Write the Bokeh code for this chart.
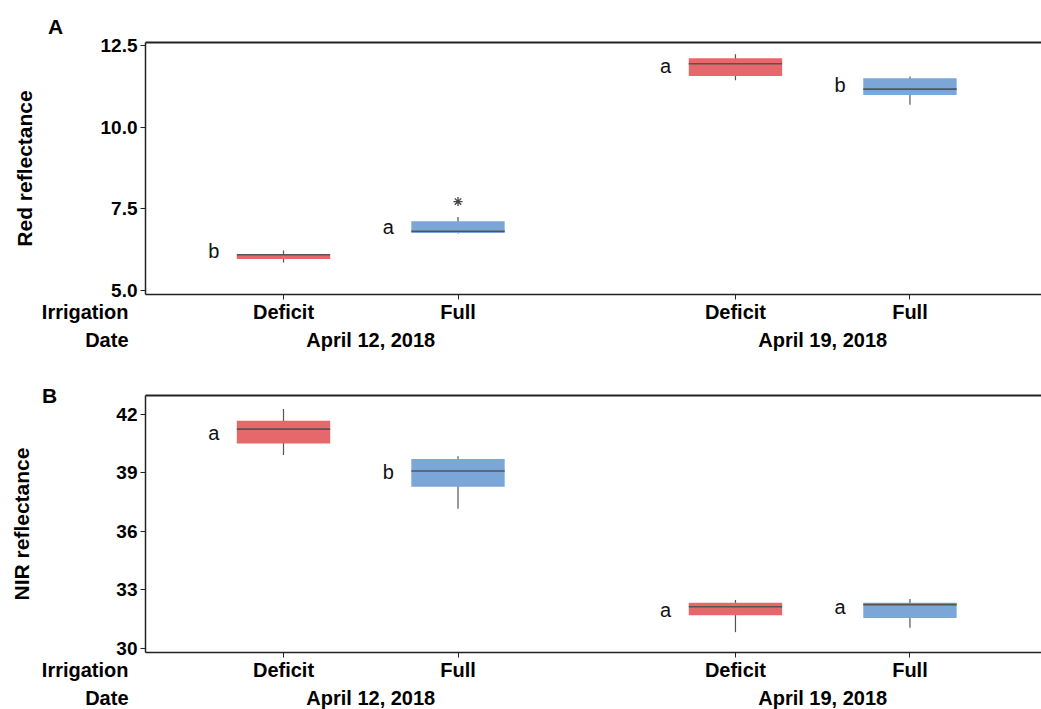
from bokeh.plotting import figure
from bokeh.models import (ColumnDataSource, Range1d, FixedTicker, LinearAxis,
                          PrintfTickFormatter, CustomJSTickFormatter, Label)
from bokeh.core.properties import value
from bokeh.layouts import column
from bokeh.embed import file_html
from bokeh.resources import INLINE

# Treatments (date x irrigation)
dates = ["April 12, 2018", "April 12, 2018", "April 19, 2018", "April 19, 2018"]
irrigation = ["Deficit", "Full", "Deficit", "Full"]
date_names = ["April 12, 2018", "April 19, 2018"]

# Panel A: red reflectance box statistics
red_low = [5.85, 6.74, 11.44, 10.69]
red_q1 = [5.96, 6.76, 11.57, 10.99]
red_med = [6.09, 6.81, 11.95, 11.17]
red_q3 = [6.10, 7.12, 12.12, 11.50]
red_high = [6.22, 7.25, 12.24, 11.56]
red_letters = ["b", "a", "a", "b"]
red_letter_y = [6.19, 6.94, 11.87, 11.29]
red_outlier_idx = [1]
red_outlier_y = [7.72]
red_ticks = [5.0, 7.5, 10.0, 12.5]

# Panel B: NIR reflectance box statistics
nir_low = [39.91, 37.15, 30.84, 31.07]
nir_q1 = [40.49, 38.28, 31.71, 31.56]
nir_med = [41.23, 39.09, 32.14, 32.25]
nir_q3 = [41.66, 39.70, 32.35, 32.34]
nir_high = [42.26, 39.84, 32.49, 32.54]
nir_letters = ["a", "b", "a", "a"]
nir_letter_y = [41.04, 39.04, 31.95, 32.11]
nir_ticks = [30, 33, 36, 39, 42]

# slot of each treatment along x (dates are separated by a wider gap)
slots = [0.0, 1.0, 2.59, 3.59]
date_slots = [(slots[0] + slots[1]) / 2, (slots[2] + slots[3]) / 2]

FONT = "Liberation Sans"
RED = "#E6686A"
BLUE = "#7AA6D8"
fills = [RED, BLUE, RED, BLUE]
BOX_W = 0.535
INK = "#222222"
W = 1041

# horizontal layout in pixels: first slot position, pixels per slot, plot box left
X0_PX, X_SCALE, BOX_LEFT = 283.0, 174.5, 145.0


def xd(px):
    return (px - X0_PX) / X_SCALE


def panel(tag, ylabel, stats, letters, letter_y, ylims, ticks, fmt,
          height, box_top, box_bottom, label_standoff, tag_px, outlier=None):
    low, q1, med, q3, high = stats
    y_lo, y_hi = ylims
    per_px = (y_hi - y_lo) / (box_bottom - box_top)

    def yd(py):
        return y_lo + (box_bottom - py) * per_px

    p = figure(width=W, height=height, x_range=Range1d(xd(0), xd(W)),
               y_range=Range1d(yd(height), yd(0)),
               x_axis_type=None, y_axis_type=None,
               output_backend="svg", toolbar_location=None)
    p.min_border = 0
    p.outline_line_color = None
    p.grid.visible = False

    src = ColumnDataSource(dict(
        x=slots, x0=[s - BOX_W / 2 for s in slots],
        x1=[s + BOX_W / 2 for s in slots], lx=[s - 0.4 for s in slots],
        low=low, q1=q1, med=med, q3=q3, high=high, fill=fills,
        lab=letters, ly=letter_y))
    # whiskers, boxes, medians
    p.segment(x0="x", x1="x", y0="low", y1="high", source=src,
              line_color="#555555", line_width=1.2)
    p.vbar(x="x", width=BOX_W, bottom="q1", top="q3", source=src,
           fill_color="fill", line_color=None)
    p.segment(x0="x0", x1="x1", y0="med", y1="med", source=src,
              line_color="#555555", line_width=1.6)
    # significance letters
    p.text(x="lx", y="ly", text="lab", source=src,
           text_font=value(FONT), text_font_size="20px", text_color="#111111",
           text_align="center", text_baseline="middle")
    if outlier is not None:
        idx, vals = outlier
        p.scatter(x=[slots[i] for i in idx], y=vals, marker="asterisk",
                  size=9, line_color="#444444", line_width=1.3)

    x_left, x_right = xd(BOX_LEFT), xd(W)

    # value axis
    yax = LinearAxis(fixed_location=x_left, bounds=(y_lo, y_hi),
                     ticker=FixedTicker(ticks=ticks),
                     formatter=PrintfTickFormatter(format=fmt))
    yax.minor_tick_line_color = None
    yax.major_tick_in = 0
    yax.major_tick_out = 5
    yax.axis_line_width = 1.5
    yax.axis_line_color = INK
    yax.major_tick_line_color = INK
    yax.major_label_standoff = 3
    yax.major_label_text_font = FONT
    yax.major_label_text_font_style = "bold"
    yax.major_label_text_font_size = "19px"
    yax.major_label_text_color = "black"
    yax.axis_label = ylabel
    yax.axis_label_text_font = FONT
    yax.axis_label_text_font_style = "bold"
    yax.axis_label_text_font_size = "21px"
    yax.axis_label_text_color = "black"
    yax.axis_label_standoff = label_standoff
    p.add_layout(yax, "left")

    # irrigation axis
    xax = LinearAxis(fixed_location=y_lo, bounds=(x_left, x_right),
                     ticker=FixedTicker(ticks=slots),
                     formatter=CustomJSTickFormatter(
                         args=dict(pos=slots, names=irrigation),
                         code="const i = pos.indexOf(tick); return i < 0 ? '' : names[i];"))
    xax.minor_tick_line_color = None
    xax.major_tick_in = 0
    xax.major_tick_out = 5
    xax.axis_line_width = 1.5
    xax.axis_line_color = INK
    xax.major_tick_line_color = INK
    xax.major_label_standoff = 1
    xax.major_label_text_font = FONT
    xax.major_label_text_font_style = "bold"
    xax.major_label_text_font_size = "20px"
    xax.major_label_text_color = "black"
    p.add_layout(xax, "below")

    # date axis (labels only)
    dax = LinearAxis(fixed_location=y_lo, bounds=(x_left, x_right),
                     ticker=FixedTicker(ticks=date_slots),
                     formatter=CustomJSTickFormatter(
                         args=dict(pos=date_slots, names=date_names),
                         code="const i = pos.indexOf(tick); return i < 0 ? '' : names[i];"))
    dax.axis_line_color = None
    dax.major_tick_line_color = None
    dax.minor_tick_line_color = None
    dax.major_tick_in = 0
    dax.major_tick_out = 0
    dax.major_label_standoff = 34
    dax.major_label_text_font = FONT
    dax.major_label_text_font_style = "bold"
    dax.major_label_text_font_size = "20px"
    dax.major_label_text_color = "black"
    p.add_layout(dax, "below")

    # top border
    tax = LinearAxis(fixed_location=y_hi, bounds=(x_left, x_right),
                     ticker=FixedTicker(ticks=[]))
    tax.axis_line_width = 2
    tax.axis_line_color = INK
    tax.major_tick_line_color = None
    tax.minor_tick_line_color = None
    tax.major_label_text_font_size = "0px"
    p.add_layout(tax, "above")

    # row titles for the two category levels
    for txt, py in (("Irrigation", box_bottom + 17), ("Date", box_bottom + 45)):
        p.add_layout(Label(x=xd(BOX_LEFT - 17), y=yd(py), text=txt,
                           text_font=FONT, text_font_style="bold",
                           text_font_size="20px", text_align="right",
                           text_baseline="middle", text_color="black"))
    # panel tag
    p.add_layout(Label(x=xd(tag_px[0]), y=yd(tag_px[1]), text=tag,
                       text_font=FONT, text_font_style="bold",
                       text_font_size="21px", text_align="center",
                       text_baseline="middle", text_color="black"))
    return p


pa = panel("A", "Red reflectance",
           (red_low, red_q1, red_med, red_q3, red_high),
           red_letters, red_letter_y, (4.87, 12.6), red_ticks, "%.1f",
           365, 42, 294, 62, (55, 26), outlier=(red_outlier_idx, red_outlier_y))
pb = panel("B", "NIR reflectance",
           (nir_low, nir_q1, nir_med, nir_q3, nir_high),
           nir_letters, nir_letter_y, (29.8, 42.95), nir_ticks, "%d",
           344, 30, 287, 80, (49, 30))

layout = column(pa, pb, spacing=0)
open("out.html", "w").write(file_html(layout, INLINE))
